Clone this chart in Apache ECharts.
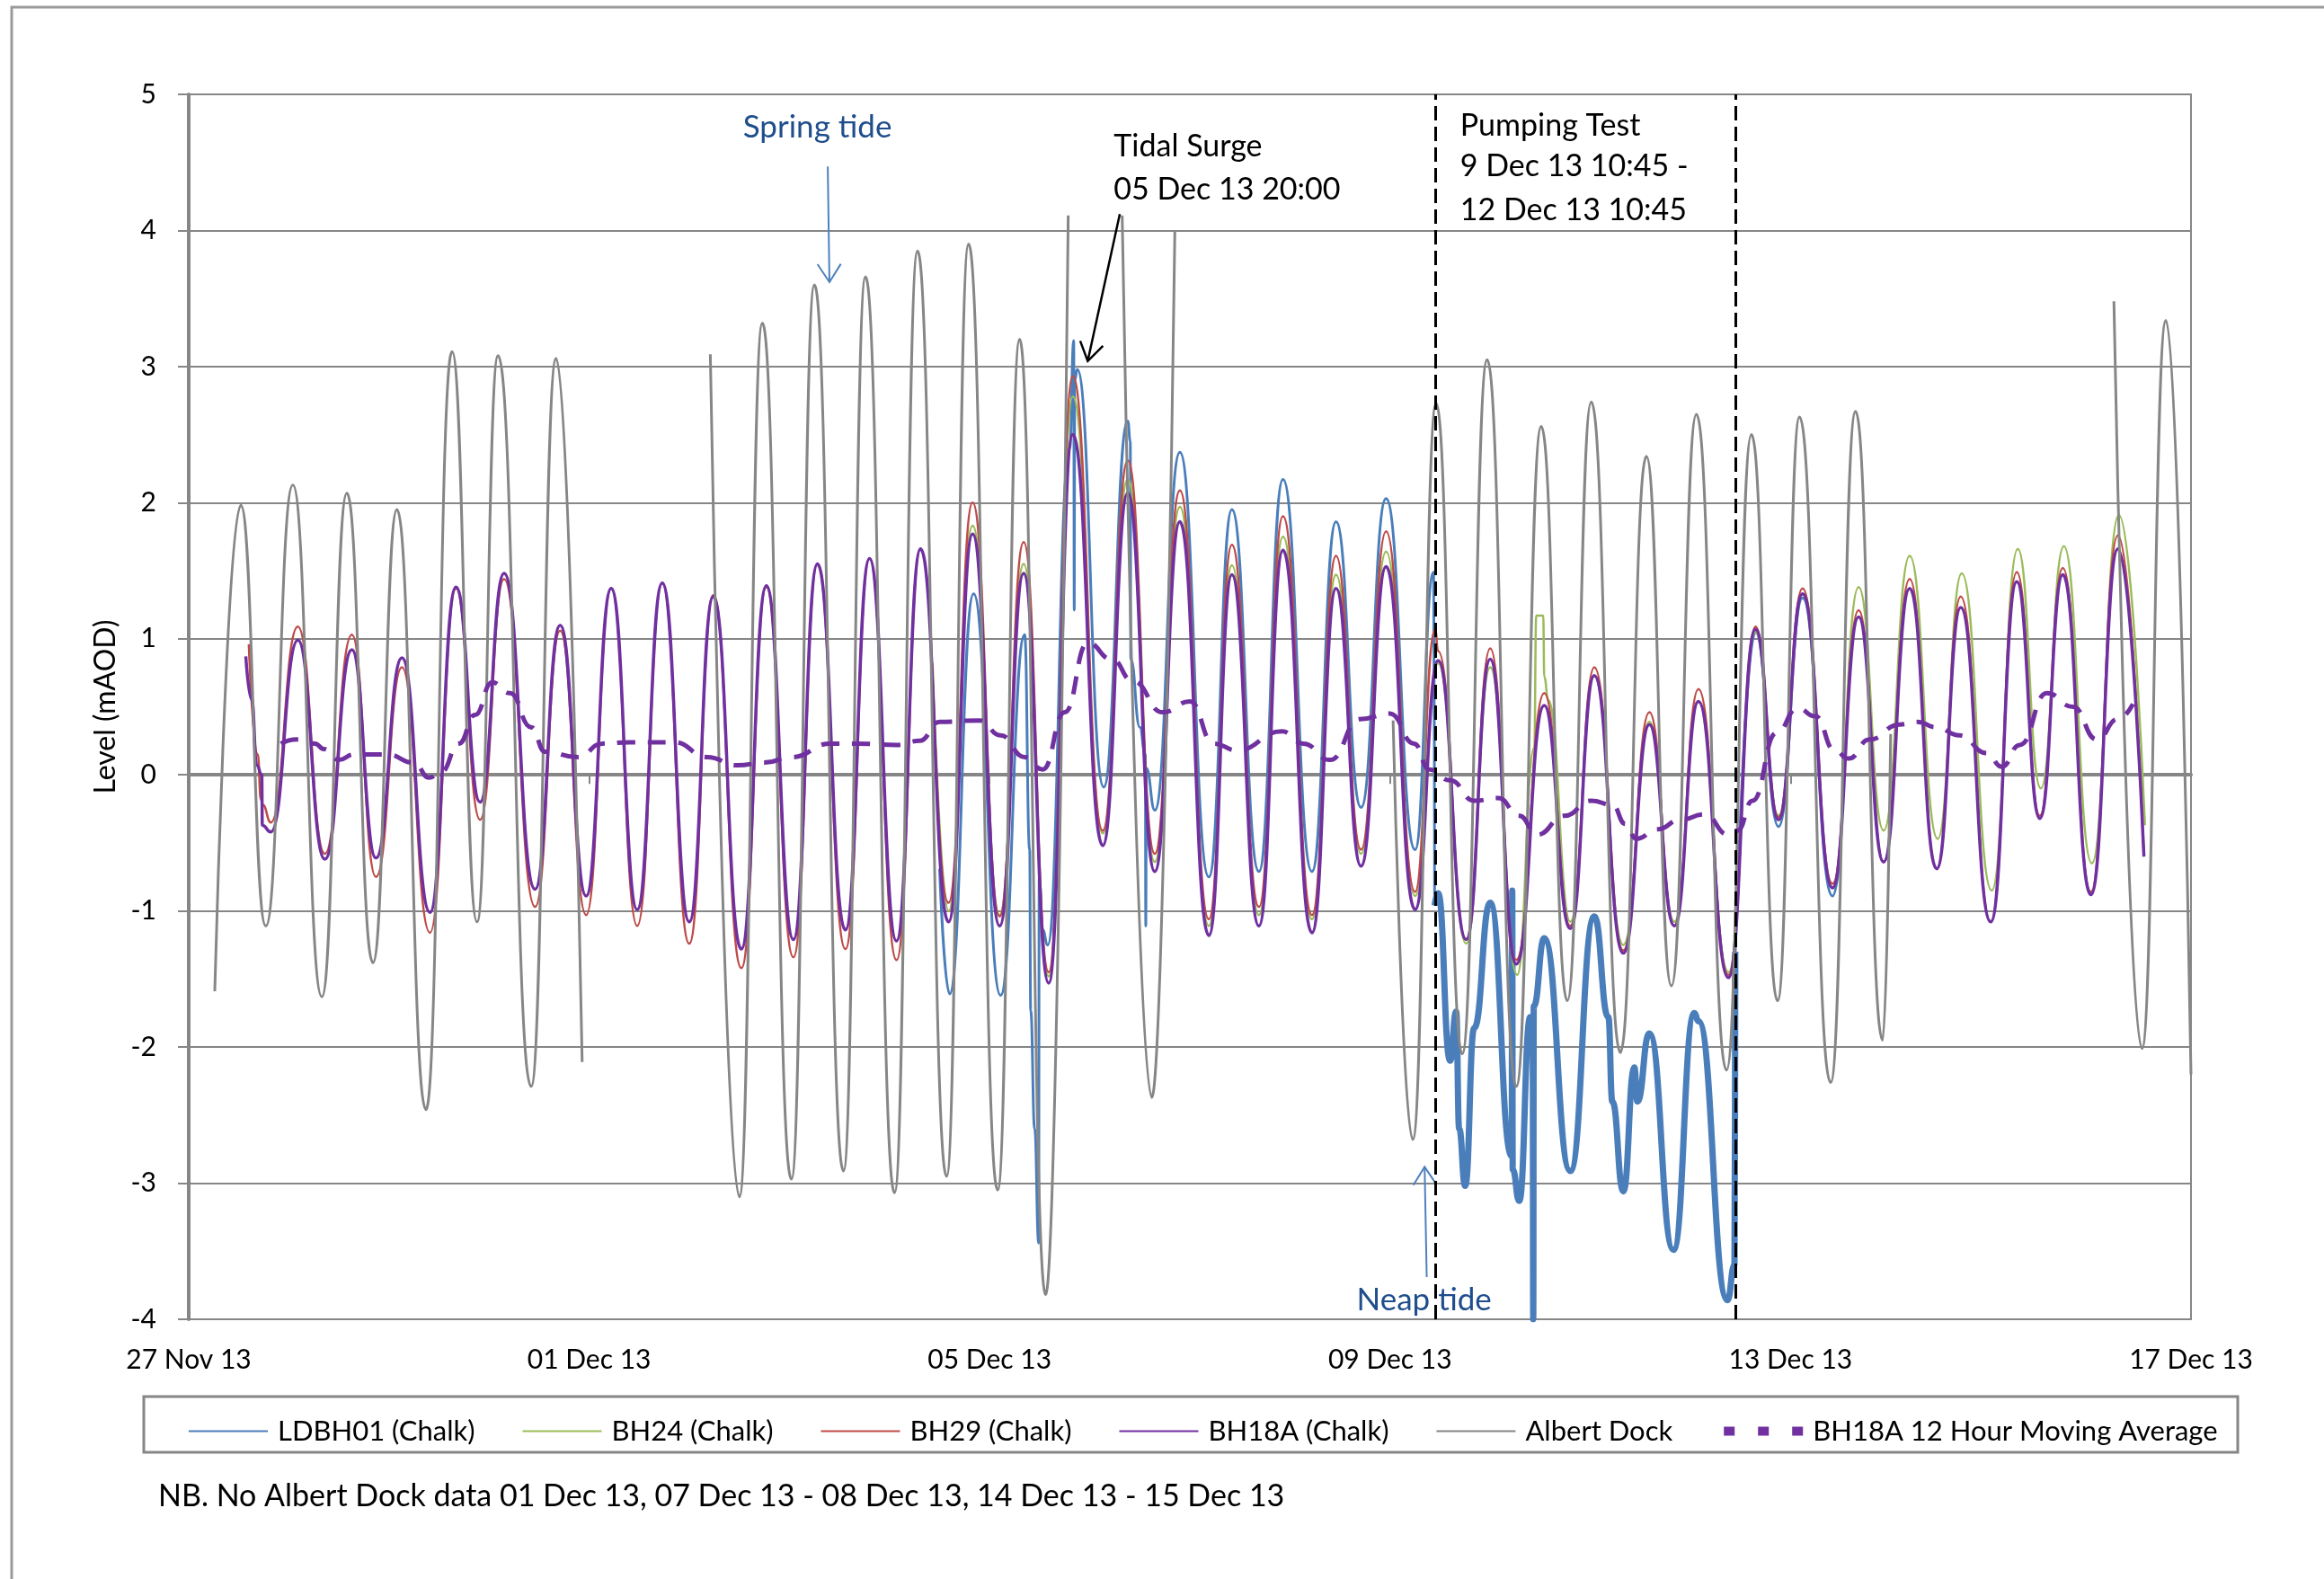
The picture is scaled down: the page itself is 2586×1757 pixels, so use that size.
<!DOCTYPE html>
<html><head><meta charset="utf-8">
<script src="https://cdn.jsdelivr.net/npm/echarts/dist/echarts.min.js"></script>
<style>html,body{margin:0;padding:0;background:#fff}#c{width:2586px;height:1757px}</style>
</head><body><div id="c"></div>
<script>
// x values: days since 27 Nov 13 00:00
const xTickLabels = ['27 Nov 13','01 Dec 13','05 Dec 13','09 Dec 13','13 Dec 13','17 Dec 13'];
const pumpingLines = [12.448, 15.448];

const ldbh01 = [[7.50,-0.69],[7.60,-1.61],[7.84,1.33],[8.11,-1.62],[8.35,1.03],[8.40,-0.55],[8.41,-1.73],[8.45,-2.60],[8.49,-3.44],[8.495,-0.75],[8.53,-1.14],[8.58,-1.25],[8.80,2.40],[8.84,3.19],[8.845,1.21],[8.85,2.90],[8.875,2.98],[9.14,-0.09],[9.38,2.60],[9.405,2.45],[9.41,0.85],[9.50,0.35],[9.555,0.15],[9.56,-1.11],[9.565,0.05],[9.65,-0.26],[9.90,2.37],[10.19,-0.75],[10.42,1.95],[10.69,-0.71],[10.93,2.17],[11.22,-0.71],[11.46,1.86],[11.71,-0.24],[11.96,2.03],[12.25,-0.55],[12.435,1.49],[12.445,-0.96],[13.0,null],[15.448,-1.30],[15.65,1.05],[15.88,-0.38],[16.12,1.30],[16.42,-0.89],[16.50,-0.55]];
const ldbh01Pumping = [[12.445,-0.96],[12.48,-0.87],[12.60,-2.10],[12.66,-1.74],[12.69,-2.60],[12.75,-3.02],[12.84,-1.86],[13.00,-0.94],[13.215,-2.80],[13.22,-0.85],[13.225,-2.90],[13.29,-3.13],[13.40,-1.78],[13.425,-1.90],[13.43,-4.00],[13.435,-1.70],[13.54,-1.20],[13.80,-2.91],[14.04,-1.04],[14.18,-1.78],[14.22,-2.40],[14.33,-3.06],[14.44,-2.15],[14.47,-2.40],[14.59,-1.90],[14.83,-3.49],[15.04,-1.75],[15.08,-1.81],[15.37,-3.86],[15.44,-3.60],[15.448,-1.30]];
const bh24 = [[7.43,0.82],[7.59,-1.00],[7.83,1.83],[8.10,-1.03],[8.34,1.55],[8.59,-1.48],[8.83,2.78],[9.13,-0.43],[9.38,2.17],[9.65,-0.64],[9.90,1.97],[10.19,-1.11],[10.42,1.54],[10.69,-1.03],[10.93,1.75],[11.22,-1.06],[11.46,1.47],[11.71,-0.58],[11.96,1.64],[12.25,-0.89],[12.48,0.82],[12.76,-1.24],[13.00,0.79],[13.27,-1.47],[13.44,0.20],[13.46,1.17],[13.53,1.17],[13.54,0.72],[13.58,0.55],[13.80,-1.08],[14.04,0.73],[14.33,-1.25],[14.59,0.39],[14.84,-1.08],[15.08,0.54],[15.38,-1.45],[15.65,1.05],[15.88,-0.30],[16.12,1.33],[16.42,-0.83],[16.68,1.38],[16.93,-0.41],[17.19,1.61],[17.47,-0.47],[17.71,1.48],[18.01,-0.85],[18.27,1.66],[18.50,-0.10],[18.73,1.68],[19.01,-0.65],[19.28,1.91],[19.54,-0.37]];
const bh29 = [[0.60,0.96],[0.69,0.15],[0.72,-0.18],[0.74,-0.22],[0.82,-0.35],[1.09,1.09],[1.36,-0.58],[1.63,1.03],[1.87,-0.75],[2.13,0.79],[2.41,-1.16],[2.67,1.37],[2.91,-0.33],[3.15,1.44],[3.46,-0.97],[3.71,1.06],[3.97,-1.03],[4.22,1.37],[4.48,-1.11],[4.73,1.41],[5.00,-1.24],[5.24,1.32],[5.52,-1.42],[5.77,1.38],[6.04,-1.34],[6.28,1.55],[6.56,-1.28],[6.80,1.59],[7.07,-1.36],[7.31,1.66],[7.59,-0.94],[7.83,2.00],[8.10,-1.04],[8.34,1.71],[8.59,-1.45],[8.83,2.93],[9.13,-0.41],[9.38,2.31],[9.65,-0.58],[9.90,2.09],[10.19,-1.06],[10.42,1.69],[10.69,-0.97],[10.93,1.90],[11.22,-1.03],[11.46,1.61],[11.71,-0.55],[11.96,1.79],[12.25,-0.86],[12.45,1.07],[12.48,0.91],[12.76,-1.21],[13.00,0.93],[13.26,-1.36],[13.54,0.60],[13.80,-1.11],[14.04,0.79],[14.33,-1.29],[14.59,0.46],[14.84,-1.11],[15.08,0.63],[15.38,-1.47],[15.65,1.09],[15.88,-0.31],[16.12,1.37],[16.42,-0.80],[16.68,1.21],[16.93,-0.64],[17.19,1.44],[17.46,-0.69],[17.70,1.31],[18.00,-1.08],[18.26,1.49],[18.49,-0.30],[18.72,1.52],[19.00,-0.86],[19.27,1.76],[19.53,-0.60]];
const bh18a = [[0.57,0.87],[0.63,0.55],[0.68,0.07],[0.73,0.00],[0.735,-0.37],[0.82,-0.42],[1.09,0.99],[1.36,-0.62],[1.63,0.92],[1.87,-0.61],[2.13,0.86],[2.41,-1.01],[2.67,1.38],[2.91,-0.20],[3.15,1.48],[3.46,-0.84],[3.71,1.10],[3.97,-0.89],[4.22,1.37],[4.48,-0.99],[4.73,1.41],[5.00,-1.08],[5.24,1.31],[5.52,-1.28],[5.77,1.39],[6.04,-1.21],[6.28,1.55],[6.56,-1.14],[6.80,1.59],[7.07,-1.22],[7.31,1.66],[7.59,-1.08],[7.83,1.77],[8.10,-1.11],[8.34,1.48],[8.59,-1.53],[8.83,2.50],[9.13,-0.52],[9.38,2.07],[9.65,-0.71],[9.90,1.86],[10.19,-1.18],[10.42,1.47],[10.69,-1.11],[10.93,1.65],[11.22,-1.16],[11.46,1.37],[11.71,-0.67],[11.96,1.53],[12.25,-0.99],[12.48,0.84],[12.76,-1.21],[13.00,0.85],[13.26,-1.39],[13.54,0.51],[13.80,-1.13],[14.04,0.73],[14.33,-1.31],[14.59,0.37],[14.84,-1.11],[15.08,0.54],[15.38,-1.49],[15.65,1.07],[15.88,-0.33],[16.12,1.33],[16.42,-0.83],[16.68,1.16],[16.93,-0.64],[17.19,1.37],[17.46,-0.69],[17.70,1.23],[18.00,-1.08],[18.26,1.42],[18.49,-0.32],[18.72,1.47],[19.00,-0.88],[19.27,1.66],[19.53,-0.60]];
const albertDock = [[0.26,-1.59],[0.52,1.98],[0.77,-1.11],[1.04,2.13],[1.33,-1.63],[1.58,2.07],[1.84,-1.38],[2.08,1.95],[2.37,-2.46],[2.63,3.11],[2.88,-1.08],[3.09,3.08],[3.42,-2.29],[3.67,3.06],[3.93,-2.11],[4.5,null],[5.21,3.09],[5.50,-3.10],[5.73,3.32],[6.02,-2.97],[6.25,3.60],[6.54,-2.91],[6.76,3.66],[7.05,-3.07],[7.28,3.85],[7.57,-2.95],[7.79,3.90],[8.08,-3.05],[8.30,3.20],[8.56,-3.82],[8.785,4.11],[9.0,null],[9.324,4.11],[9.62,-2.37],[9.85,3.99],[11.0,null],[12.03,0.40],[12.226,-2.68],[12.46,2.73],[12.72,-2.05],[12.97,3.05],[13.26,-2.29],[13.51,2.56],[13.77,-1.66],[14.01,2.74],[14.30,-2.04],[14.56,2.34],[14.81,-1.55],[15.06,2.65],[15.36,-2.17],[15.61,2.50],[15.87,-1.66],[16.09,2.63],[16.40,-2.26],[16.65,2.67],[16.92,-1.95],[17.00,0.30],[18.0,null],[19.23,3.48],[19.51,-2.01],[19.75,3.34],[20.00,-2.20]];
const bh18aMovingAvg = [[0.92,0.23],[1.08,0.26],[1.26,0.23],[1.35,0.19],[1.50,0.11],[1.65,0.15],[1.98,0.15],[2.25,0.09],[2.40,-0.02],[2.52,0.02],[2.70,0.23],[2.86,0.44],[3.03,0.68],[3.21,0.60],[3.42,0.35],[3.56,0.17],[3.89,0.13],[4.13,0.23],[4.40,0.24],[4.85,0.24],[5.18,0.13],[5.48,0.07],[5.75,0.09],[6.02,0.13],[6.41,0.23],[6.68,0.23],[7.07,0.22],[7.30,0.25],[7.50,0.39],[7.90,0.40],[8.11,0.29],[8.35,0.13],[8.53,0.04],[8.75,0.46],[8.98,0.97],[9.22,0.85],[9.43,0.69],[9.73,0.46],[10.00,0.54],[10.24,0.23],[10.47,0.18],[10.92,0.32],[11.13,0.23],[11.40,0.11],[11.70,0.41],[12.00,0.45],[12.24,0.23],[12.39,0.04],[12.60,-0.04],[12.84,-0.19],[13.08,-0.17],[13.29,-0.30],[13.47,-0.44],[13.74,-0.30],[14.01,-0.19],[14.22,-0.22],[14.35,-0.36],[14.46,-0.47],[14.67,-0.40],[14.90,-0.33],[15.14,-0.29],[15.38,-0.44],[15.47,-0.41],[15.62,-0.19],[15.86,0.31],[16.07,0.49],[16.25,0.43],[16.44,0.18],[16.58,0.12],[16.79,0.26],[17.09,0.37],[17.27,0.39],[17.45,0.35],[17.69,0.29],[17.96,0.16],[18.11,0.06],[18.29,0.22],[18.56,0.60],[18.82,0.50],[19.06,0.26],[19.27,0.41],[19.42,0.52]];

// annotation anchors (data coordinates)
const springTideLabel = {text:'Spring tide', at:[6.28,4.76], arrow:[[6.383,4.47],[6.40,3.62]]};
const tidalSurgeLabel = {lines:['Tidal Surge','05 Dec 13 20:00'], at:[[9.24,4.62],[9.24,4.30]], arrow:[[9.30,4.12],[8.98,3.04]]};
const pumpingLabel = {lines:['Pumping Test','9 Dec 13 10:45 -','12 Dec 13 10:45'], at:[[12.70,4.77],[12.70,4.47],[12.70,4.15]]};
const neapTideLabel = {text:'Neap tide', at:[12.34,-3.86], arrow:[[12.366,-3.69],[12.345,-2.88]]};
const noteText = 'NB. No Albert Dock data 01 Dec 13, 07 Dec 13 - 08 Dec 13, 14 Dec 13 - 15 Dec 13';

const FONT = 'Lato';
const GRID = '#868686';
const chart = echarts.init(document.getElementById('c'));

function lineSeries(name, data, color, width, extra) {
  return Object.assign({
    name: name, type: 'line', data: data, showSymbol: false, symbol: 'none',
    smooth: 0.5, smoothMonotone: 'x', connectNulls: false, animation: false,
    lineStyle: {color: color, width: width}, itemStyle: {color: color}
  }, extra || {});
}

const legendNames = ['LDBH01 (Chalk)','BH24 (Chalk)','BH29 (Chalk)','BH18A (Chalk)','Albert Dock','BH18A 12 Hour Moving Average'];

const option = {
  animation: false,
  backgroundColor: '#fff',
  textStyle: {fontFamily: FONT},
  grid: {left: 210, right: 148, top: 105, bottom: 289, show: true, borderColor: GRID, borderWidth: 2},
  xAxis: {
    type: 'value', min: 0, max: 20, interval: 4,
    axisLine: {lineStyle: {color: GRID, width: 4}},
    axisTick: {show: true, length: 10, lineStyle: {color: GRID, width: 2}},
    splitLine: {show: false},
    axisLabel: {margin: 30, fontSize: 30, color: '#000', fontFamily: FONT,
      formatter: v => xTickLabels[Math.round(v / 4)]}
  },
  yAxis: {
    type: 'value', min: -4, max: 5, interval: 1,
    name: 'Level (mAOD)', nameLocation: 'middle', nameGap: 76,
    nameTextStyle: {fontSize: 32, color: '#000', fontFamily: FONT},
    axisLine: {show: true, lineStyle: {color: GRID, width: 4}},
    axisTick: {show: true, length: 12, lineStyle: {color: GRID, width: 2}},
    splitLine: {show: true, lineStyle: {color: GRID, width: 2}},
    axisLabel: {margin: 36, fontSize: 30, color: '#000', fontFamily: FONT}
  },
  legend: {
    left: 204, top: 1572, itemWidth: 88, itemHeight: 18, itemGap: 52,
    itemStyle: {opacity: 0},
    textStyle: {fontSize: 31, color: '#000', fontFamily: FONT, padding: [0,0,0,6]},
    data: legendNames.map((n, i) => i === 5
      ? {name: n, lineStyle: {type: [12, 26], width: 10}}
      : {name: n})
  },
  series: [
    lineSeries('LDBH01 (Chalk)', ldbh01, '#4a7ebb', 3),
    lineSeries('LDBH01 (Chalk)', ldbh01Pumping, '#4a7ebb', 7),
    lineSeries('BH24 (Chalk)', bh24, '#9bbb59', 2.5),
    lineSeries('BH29 (Chalk)', bh29, '#be4b48', 2.5),
    lineSeries('BH18A (Chalk)', bh18a, '#7030a0', 3.5),
    lineSeries('Albert Dock', albertDock, '#868686', 3),
    lineSeries('BH18A 12 Hour Moving Average', bh18aMovingAvg, '#7030a0', 5, {
      lineStyle: {color: '#7030a0', width: 5, type: [20, 14]},
      markLine: {silent: true, symbol: ['none','none'], label: {show: false},
        lineStyle: {color: '#000', width: 3, type: [16, 7]},
        data: pumpingLines.map(x => ({xAxis: x}))}
    })
  ]
};
chart.setOption(option);

function px(p) { return chart.convertToPixel({gridIndex: 0}, p); }
function arrowEls(from, to, color, width) {
  const a = px(from), b = px(to);
  const dx = b[0]-a[0], dy = b[1]-a[1], L = Math.hypot(dx, dy);
  const ux = dx/L, uy = dy/L, len = 24, ang = Math.PI/5.5;
  const w = s => {
    const c = Math.cos(s*ang), sn = Math.sin(s*ang);
    const rx = ux*c - uy*sn, ry = ux*sn + uy*c;
    return [b[0]-len*rx, b[1]-len*ry];
  };
  return [
    {type:'polyline', silent:true, shape:{points:[a,b]}, style:{stroke:color, lineWidth:width, fill:null}},
    {type:'polyline', silent:true, shape:{points:[w(1), b, w(-1)]}, style:{stroke:color, lineWidth:width, fill:null}}
  ];
}
function textEl(str, p, color, size, align) {
  const q = px(p);
  return {type:'text', silent:true, x:q[0], y:q[1],
    style:{text:str, fill:color, font: size+'px '+FONT, align:align, verticalAlign:'middle', textAlign:align, textVerticalAlign:'middle'}};
}

const els = [];
els.push({type:'rect', silent:true, shape:{x:13, y:8, width:2700, height:2000}, style:{stroke:'#9a9a9a', lineWidth:3, fill:null}});
els.push({type:'rect', silent:true, shape:{x:160, y:1554, width:2330, height:62}, style:{stroke:GRID, lineWidth:3, fill:null}});
els.push({type:'text', silent:true, x:176, y:1665, style:{text:noteText, fill:'#000', font:'34px '+FONT, align:'left', verticalAlign:'middle', textAlign:'left', textVerticalAlign:'middle'}});
els.push(textEl(springTideLabel.text, springTideLabel.at, '#1f4e8c', 35, 'center'));
els.push(...arrowEls(springTideLabel.arrow[0], springTideLabel.arrow[1], '#4f81bd', 2));
tidalSurgeLabel.lines.forEach((t, i) => els.push(textEl(t, tidalSurgeLabel.at[i], '#000', 34, 'left')));
els.push(...arrowEls(tidalSurgeLabel.arrow[0], tidalSurgeLabel.arrow[1], '#000', 2.5));
pumpingLabel.lines.forEach((t, i) => els.push(textEl(t, pumpingLabel.at[i], '#000', 34, 'left')));
els.push(textEl(neapTideLabel.text, neapTideLabel.at, '#1f4e8c', 35, 'center'));
els.push(...arrowEls(neapTideLabel.arrow[0], neapTideLabel.arrow[1], '#4f81bd', 2));
chart.setOption({graphic: {elements: els}});
</script>
</body></html>
